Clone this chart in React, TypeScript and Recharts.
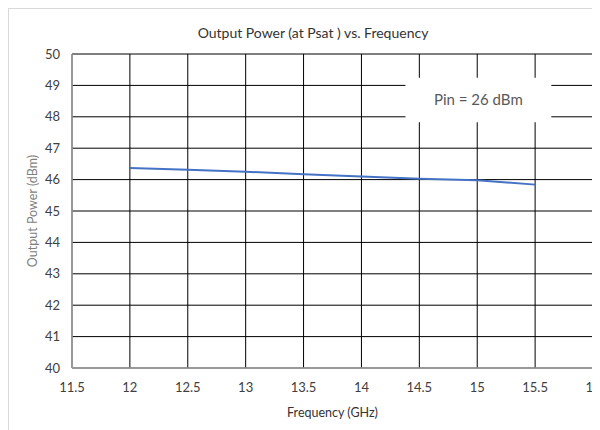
import React from "react";
import {
  LineChart,
  Line,
  XAxis,
  YAxis,
  CartesianGrid,
  ReferenceArea,
  Label,
} from "recharts";

// Frequency sweep (GHz) and saturated output power (dBm)
const frequencies = [12, 12.5, 13, 13.5, 14, 14.5, 15, 15.5];
const outputPower = [46.37, 46.31, 46.25, 46.17, 46.1, 46.03, 45.98, 45.84];

const xTicks = [11.5, 12, 12.5, 13, 13.5, 14, 14.5, 15, 15.5, 16];
const yTicks = [40, 41, 42, 43, 44, 45, 46, 47, 48, 49, 50];

const chartTitle = "Output Power (at Psat ) vs. Frequency";
const xAxisTitle = "Frequency (GHz)";
const yAxisTitle = "Output Power (dBm)";
const noteText = "Pin = 26 dBm";

// Extent of the note box, in axis units
const noteX = [14.38, 15.64];
const noteY = [47.83, 49.24];

const data = frequencies.map((f, i) => ({ freq: f, power: outputPower[i] }));

const FONT = "Lato, 'Open Sans', sans-serif";

export default function App() {
  return (
    <div
      style={{
        width: 591,
        height: 421,
        borderTop: "1px solid #d9d9d9",
        borderLeft: "1px solid #d9d9d9",
        position: "relative",
        background: "#fff",
        fontFamily: FONT,
      }}
    >
      <div
        style={{
          position: "absolute",
          top: 15,
          left: 0,
          width: 608,
          textAlign: "center",
          fontSize: 14,
          color: "#333",
          fontFamily: FONT,
        }}
      >
        {chartTitle}
      </div>
      <LineChart
        width={591}
        height={421}
        data={data}
        margin={{ top: 45, right: 7, left: 0, bottom: 30 }}
        style={{ fontFamily: FONT }}
      >
        <CartesianGrid stroke="#000" strokeWidth={1} />
        <XAxis
          dataKey="freq"
          type="number"
          domain={[11.5, 16]}
          ticks={xTicks}
          interval={0}
          allowDataOverflow
          tickLine={false}
          tickMargin={9}
          height={32}
          axisLine={{ stroke: "#a0a0a0", strokeWidth: 1.5 }}
          tick={{ fill: "#404040", fontSize: 13, fontFamily: FONT }}
        >
          <Label
            value={xAxisTitle}
            position="insideBottom"
            offset={-17}
            fill="#333"
            fontSize={12.5}
            fontFamily={FONT}
          />
        </XAxis>
        <YAxis
          type="number"
          domain={[40, 50]}
          ticks={yTicks}
          interval={0}
          tickLine={false}
          tickMargin={6}
          width={63}
          axisLine={{ stroke: "#a0a0a0", strokeWidth: 1.5 }}
          tick={{ fill: "#404040", fontSize: 13, fontFamily: FONT }}
        >
          <Label
            value={yAxisTitle}
            angle={-90}
            position="insideLeft"
            offset={24}
            style={{ textAnchor: "middle", fontFamily: FONT }}
            fill="#7f7f7f"
            fontSize={12.5}
          />
        </YAxis>
        <ReferenceArea
          x1={noteX[0]}
          x2={noteX[1]}
          y1={noteY[0]}
          y2={noteY[1]}
          fill="#fff"
          fillOpacity={1}
          stroke="none"
        >
          <Label
            value={noteText}
            position="center"
            fill="#595959"
            fontSize={15}
            fontFamily={FONT}
          />
        </ReferenceArea>
        <Line
          dataKey="power"
          type="linear"
          stroke="#4472C4"
          strokeWidth={2}
          dot={false}
          isAnimationActive={false}
        />
      </LineChart>
    </div>
  );
}
